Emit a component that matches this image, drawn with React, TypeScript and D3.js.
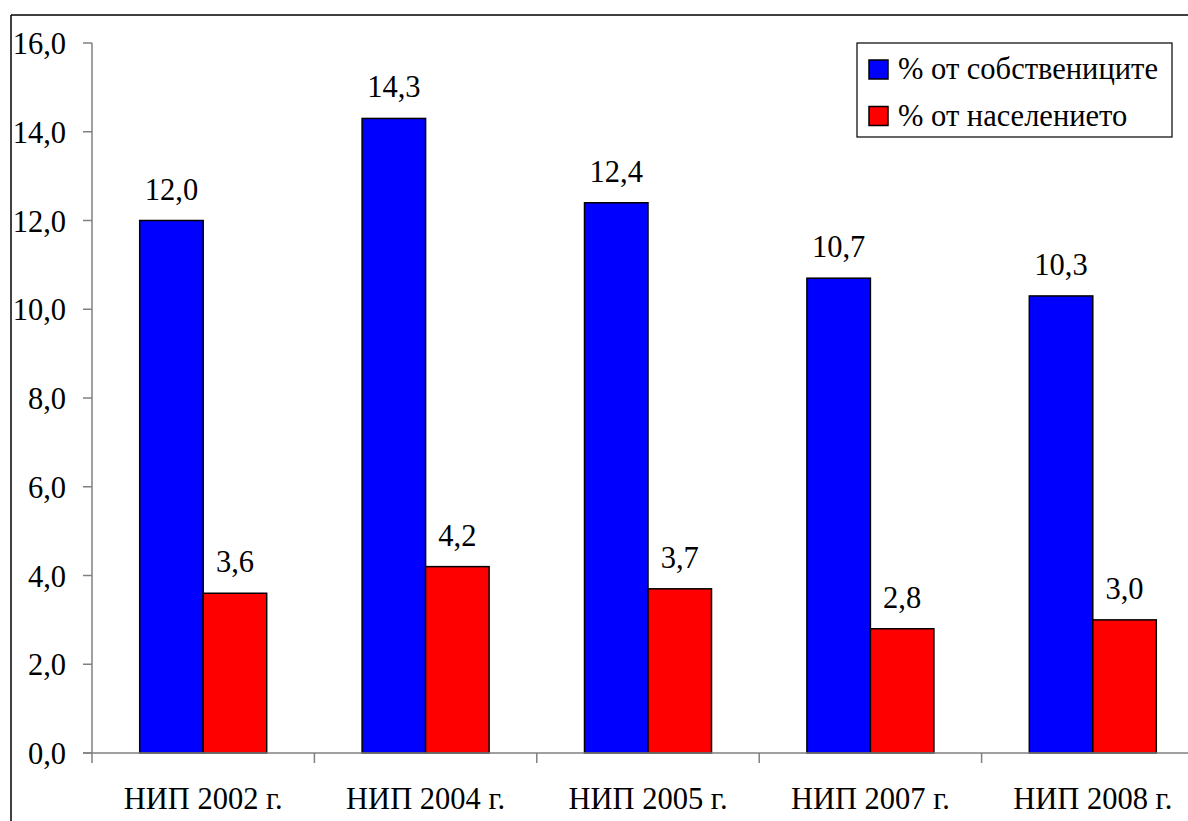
import React from "react";
import * as d3 from "d3";

const categories = ["НИП 2002 г.", "НИП 2004 г.", "НИП 2005 г.", "НИП 2007 г.", "НИП 2008 г."];
const seriesNames = ["% от собствениците", "% от населението"];
const owners = [12.0, 14.3, 12.4, 10.7, 10.3];
const population = [3.6, 4.2, 3.7, 2.8, 3.0];
const yTicks = [0, 2, 4, 6, 8, 10, 12, 14, 16];
const colors = ["#0000FF", "#FF0000"];

const W = 1188;
const H = 821;
const FONT = '"Liberation Serif"';
const FS = 30.5;

const fmt = (v: number) => v.toFixed(1).replace(".", ",");

export default function App() {
  const y = d3.scaleLinear().domain([0, 16]).range([753, 43]);
  const x = d3.scaleBand<string>().domain(categories).range([92, 92 + 5 * 222.4]).paddingInner(0).paddingOuter(0);
  const groupW = 127;
  const x1 = d3.scaleBand<string>().domain(seriesNames).range([0, groupW]);
  const offset = (x.bandwidth() - groupW) / 2;
  const seriesData = [owners, population];
  const axisColor = "#808080";
  const txt = { fontFamily: FONT, fontSize: FS } as React.CSSProperties;

  return (
    <svg width={W} height={H} style={{ position: "absolute", left: 0, top: 0, background: "#fff" }}>
      <rect x={0} y={0} width={W} height={H} fill="#fff" />
      {/* outer frame */}
      <line x1={11} y1={15} x2={W} y2={15} stroke="#000" strokeWidth={1.5} />
      <line x1={11} y1={15} x2={11} y2={H} stroke="#000" strokeWidth={1.5} />

      {/* bars */}
      {seriesData.map((vals, si) =>
        vals.map((v, i) => {
          const bx = (x(categories[i]) as number) + offset + (x1(seriesNames[si]) as number);
          return (
            <rect
              key={`b-${si}-${i}`}
              x={bx}
              y={y(v)}
              width={x1.bandwidth()}
              height={y(0) - y(v)}
              fill={colors[si]}
              stroke="#000"
              strokeWidth={1.5}
            />
          );
        })
      )}

      {/* axes */}
      <line x1={92} y1={y(16)} x2={92} y2={y(0)} stroke={axisColor} strokeWidth={1.5} />
      <line x1={83} y1={y(0)} x2={W} y2={y(0)} stroke={axisColor} strokeWidth={1.5} />
      {yTicks.map((t) => (
        <g key={`yt-${t}`}>
          <line x1={83} x2={92} y1={y(t)} y2={y(t)} stroke={axisColor} strokeWidth={1.5} />
          <text x={66} y={y(t) + 11} textAnchor="end" style={txt} fill="#000">
            {fmt(t)}
          </text>
        </g>
      ))}
      {categories.map((c, i) => (
        <line
          key={`xt-${i}`}
          x1={x(c) as number}
          x2={x(c) as number}
          y1={y(0)}
          y2={y(0) + 10}
          stroke={axisColor}
          strokeWidth={1.5}
        />
      ))}
      {categories.map((c) => (
        <text
          key={`xl-${c}`}
          x={(x(c) as number) + x.bandwidth() / 2}
          y={809}
          textAnchor="middle"
          style={txt}
          fill="#000"
        >
          {c}
        </text>
      ))}

      {/* value labels */}
      {seriesData.map((vals, si) =>
        vals.map((v, i) => {
          const cx = (x(categories[i]) as number) + offset + (x1(seriesNames[si]) as number) + x1.bandwidth() / 2;
          return (
            <text key={`l-${si}-${i}`} x={cx} y={y(v) - 21} textAnchor="middle" style={txt} fill="#000">
              {fmt(v)}
            </text>
          );
        })
      )}

      {/* legend */}
      <rect x={857} y={43} width={315} height={94} fill="#fff" stroke="#000" strokeWidth={1.2} />
      {seriesNames.map((s, i) => (
        <g key={`lg-${i}`}>
          <rect x={869} y={60 + i * 46.5} width={19} height={19} fill={colors[i]} stroke="#000" strokeWidth={1.5} />
          <text x={898} y={79 + i * 46.5} style={txt} fill="#000">
            {s}
          </text>
        </g>
      ))}
    </svg>
  );
}
